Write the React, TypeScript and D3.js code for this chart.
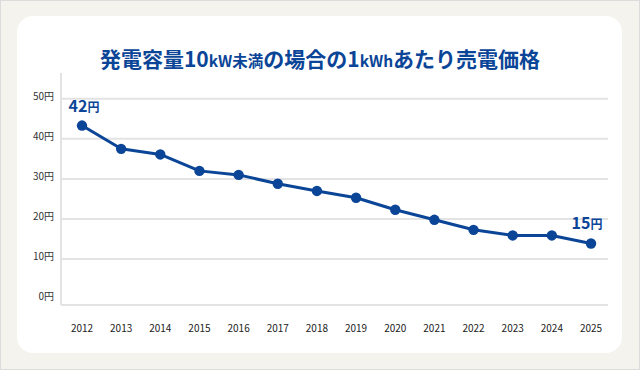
import React from "react";
import * as d3 from "d3";

const years = ["2012","2013","2014","2015","2016","2017","2018","2019","2020","2021","2022","2023","2024","2025"]
// values as plotted in the picture (yen per kWh)
const prices = [43.3, 37.5, 36.1, 32.0, 31.0, 28.8, 27.0, 25.3, 22.3, 19.8, 17.3, 15.9, 15.9, 13.9]
const yTicks = [0, 10, 20, 30, 40, 50]
const endLabels = [{ idx: 0, num: "42" }, { idx: 13, num: "15" }]

const W = 640
const H = 370
const blue = "#0b4597"

export default function App() {
  const font = "'Noto Sans CJK JP', 'Noto Sans', sans-serif"

  const xScale = d3.scalePoint<string>().domain(years).range([82, 591])
  const yScale = d3.scaleLinear().domain([0, 50]).range([299.2, 98.7])

  const line = d3.line<number>()
    .x((d, i) => xScale(years[i]) as number)
    .y(d => yScale(d))

  const plotLeft = 61
  const plotRight = 608
  const axisBottom = 305

  return (
    <svg width={W} height={H} style={{ position: "absolute", left: 0, top: 0 }} fontFamily={font}>
      <rect x={0.5} y={0.5} width={W - 1} height={H - 1} fill="#f5f3ee" stroke="#dcdcdc" />
      <rect x={17} y={16} width={605} height={337} rx={16} fill="#ffffff" />

      <text x={320} y={66.5} textAnchor="middle" fill={blue} fontWeight={700} fontSize={21}>
        発電容量10<tspan fontSize={15.5}>kW未満</tspan>の場合の1<tspan fontSize={15.5}>kWh</tspan>あたり売電価格
      </text>

      {/* grid */}
      <g>
        {yTicks.filter(t => t > 0).map(t => (
          <line key={t} x1={plotLeft} x2={plotRight} y1={yScale(t)} y2={yScale(t)} stroke="#e3e3e3" strokeWidth={2} />
        ))}
        <line x1={plotLeft} x2={plotLeft} y1={73} y2={axisBottom} stroke="#e3e3e3" strokeWidth={2} />
        <line x1={plotLeft} x2={plotRight} y1={axisBottom} y2={axisBottom} stroke="#e3e3e3" strokeWidth={2} />
      </g>

      <g fontSize={10} fill="#333">
        {yTicks.map(t => (
          <text key={t} x={54} y={yScale(t) - 1.5} textAnchor="end" dominantBaseline="middle">{t}円</text>
        ))}
        {years.map(y => (
          <text key={y} x={xScale(y)} y={329} textAnchor="middle" dominantBaseline="middle" fill="#222">{y}</text>
        ))}
      </g>

      <path d={line(prices) || ""} fill="none" stroke={blue} strokeWidth={3} strokeLinejoin="round" />
      {prices.map((p, i) => (
        <circle key={years[i]} cx={xScale(years[i])} cy={yScale(p)} r={5.2} fill={blue} />
      ))}

      {endLabels.map(l => {
        const cx = xScale(years[l.idx]) as number
        const cy = yScale(prices[l.idx])
        return (
          <text key={l.idx} x={l.idx === 0 ? cx + 2 : cx - 4} y={cy - 14} textAnchor="middle"
            fill={blue} fontWeight={700} fontSize={16}>
            {l.num}<tspan fontSize={12}>円</tspan>
          </text>
        )
      })}
    </svg>
  )
}
